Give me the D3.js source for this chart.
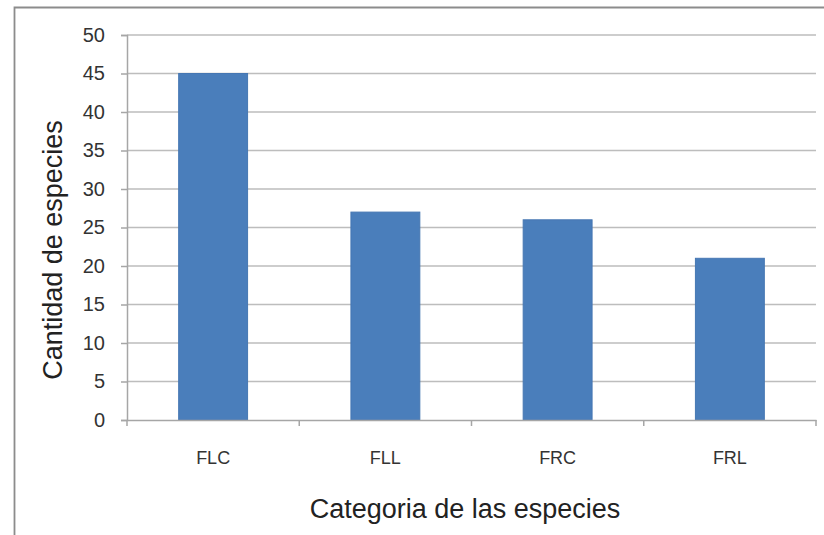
<!DOCTYPE html>
<html><head><meta charset="utf-8">
<script src="https://cdn.jsdelivr.net/npm/d3@7"></script>
<style>body{margin:0;background:#fff}svg{display:block}</style>
</head><body>
<svg id="c" width="824" height="535"></svg>
<script>
const categories = ["FLC", "FLL", "FRC", "FRL"];
const values = [45, 27, 26, 21];
const yTicks = [0, 5, 10, 15, 20, 25, 30, 35, 40, 45, 50];
const yTitle = "Cantidad de especies";
const xTitle = "Categoria de las especies";

(function () {
const svg = d3.select("#c");
const font = "'Liberation Sans', Arial, sans-serif";
const pL = 127, pR = 816, pT = 35, pB = 420;

// outer frame (left and top edges visible)
svg.append("path").attr("d", "M14.5,535 L14.5,7.5 L824,7.5")
  .attr("fill", "none").attr("stroke", "#8c8c8c").attr("stroke-width", 1.8);

const x = d3.scaleBand().domain(categories).range([pL, pR]).paddingInner(0.6).paddingOuter(0.3);
const y = d3.scaleLinear().domain([0, 50]).range([pB, pT]);

// gridlines
svg.append("g").selectAll("line").data(yTicks.filter(d => d > 0)).join("line")
  .attr("x1", pL).attr("x2", pR)
  .attr("y1", d => y(d)).attr("y2", d => y(d))
  .attr("stroke", "#bdbdbd").attr("stroke-width", 1.5);

// bars
svg.append("g").selectAll("rect").data(values).join("rect")
  .attr("x", (d, i) => x(categories[i]))
  .attr("y", d => y(d))
  .attr("width", x.bandwidth())
  .attr("height", d => y(0) - y(d))
  .attr("fill", "#4a7ebb")
  .attr("stroke", "#4677b3").attr("stroke-width", 1);

// y axis
const yAxis = svg.append("g").attr("transform", `translate(${pL},0)`)
  .call(d3.axisLeft(y).tickValues(yTicks).tickSize(6).tickPadding(16));
yAxis.select(".domain").attr("stroke", "#a6a6a6").attr("stroke-width", 1.5);
yAxis.selectAll(".tick line").attr("stroke", "#a6a6a6").attr("stroke-width", 1.5);
yAxis.selectAll(".tick text").attr("font-family", font).attr("font-size", 20).attr("fill", "#333");

// x axis
const xAxis = svg.append("g").attr("transform", `translate(0,${pB})`)
  .call(d3.axisBottom(x).tickSize(0).tickPadding(31));
xAxis.select(".domain").attr("stroke", "#a6a6a6").attr("stroke-width", 1.5);
xAxis.selectAll(".tick text").attr("font-family", font).attr("font-size", 18).attr("fill", "#333");
// category separator ticks
const seps = d3.range(categories.length + 1).map(i => pL + i * (pR - pL) / categories.length);
xAxis.append("g").selectAll("line").data(seps).join("line")
  .attr("x1", d => d).attr("x2", d => d).attr("y1", 0).attr("y2", 6)
  .attr("stroke", "#a6a6a6").attr("stroke-width", 1.5);

// titles
svg.append("text").attr("x", 465).attr("y", 518).attr("text-anchor", "middle")
  .attr("font-family", font).attr("font-size", 27).attr("fill", "#222").text(xTitle);
svg.append("text").attr("transform", "translate(62,250) rotate(-90)").attr("text-anchor", "middle")
  .attr("font-family", font).attr("font-size", 27).attr("fill", "#222").text(yTitle);
})();
</script>
</body></html>
